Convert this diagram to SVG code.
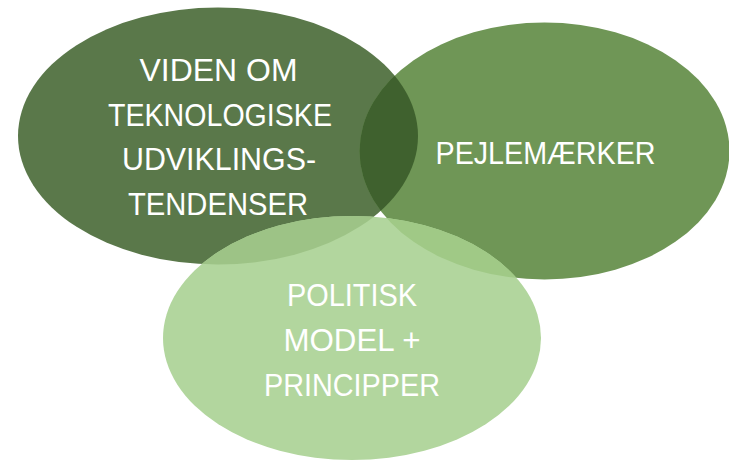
<svg xmlns="http://www.w3.org/2000/svg" width="729" height="460" viewBox="0 0 729 460">
<defs>
<style>
.lbl{font-family:"Liberation Sans",Arial,sans-serif;font-size:31px;fill:#ffffff;text-anchor:middle}
</style>
<clipPath id="cDark"><ellipse cx="218" cy="136" rx="200" ry="128.5"/></clipPath>
<clipPath id="cRight"><ellipse cx="544.5" cy="151" rx="185" ry="128.5"/></clipPath>
</defs>
<rect width="729" height="460" fill="#ffffff"/>
<g id="node-viden">
<ellipse cx="218" cy="136" rx="200" ry="128.5" fill="#5a784a"/>
</g>
<g id="node-pejlemaerker">
<ellipse cx="544.5" cy="151" rx="185" ry="128.5" fill="#6f9656"/>
</g>
<g id="overlap-viden-pejl">
<ellipse cx="544.5" cy="151" rx="185" ry="128.5" fill="#3f612e" clip-path="url(#cDark)"/>
</g>
<g id="node-politisk">
<ellipse cx="352" cy="338" rx="189" ry="122" fill="#b2d69e"/>
<ellipse cx="352" cy="338" rx="189" ry="122" fill="#9dc386" clip-path="url(#cDark)"/>
<ellipse cx="352" cy="338" rx="189" ry="122" fill="#a0c986" clip-path="url(#cRight)"/>
</g>
<g id="labels">
<text class="lbl" x="218.5" y="81" textLength="158" lengthAdjust="spacingAndGlyphs">VIDEN OM</text>
<text class="lbl" x="220" y="125.5" textLength="224" lengthAdjust="spacingAndGlyphs">TEKNOLOGISKE</text>
<text class="lbl" x="219" y="170" textLength="194" lengthAdjust="spacingAndGlyphs">UDVIKLINGS-</text>
<text class="lbl" x="218" y="215" textLength="180" lengthAdjust="spacingAndGlyphs">TENDENSER</text>
<text class="lbl" x="545.5" y="163.5" textLength="220" lengthAdjust="spacingAndGlyphs">PEJLEMÆRKER</text>
<text class="lbl" x="352" y="306" textLength="130" lengthAdjust="spacingAndGlyphs">POLITISK</text>
<text class="lbl" x="352" y="351" textLength="137" lengthAdjust="spacingAndGlyphs">MODEL +</text>
<text class="lbl" x="352" y="396" textLength="176" lengthAdjust="spacingAndGlyphs">PRINCIPPER</text>
</g>
</svg>
